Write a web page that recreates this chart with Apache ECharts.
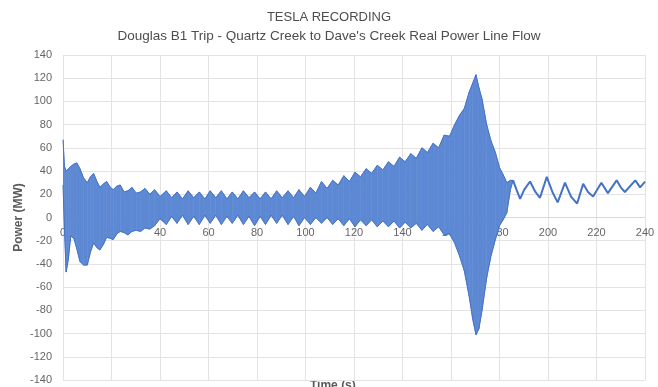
<!DOCTYPE html>
<html><head><meta charset="utf-8">
<script src="https://cdn.jsdelivr.net/npm/echarts@6/dist/echarts.min.js"></script>
<style>html,body{margin:0;padding:0;background:#fff}#c{width:658px;height:387px}</style>
</head><body><div id="c"></div>
<script>
// Oscillation envelope (max / min of the dense swing) in seconds / MW
const bandTime  = [0,0.6,1.3,2.2,3.2,4.5,5.7,7.0,8.5,10.0,11.3,12.6,14.0,15.2,16.7,18.0,19.5,20.7,22.2,23.6,25.2,26.8,28.4,30.2,32.0,33.8,35.8,37.8,40.0,
  42.6,44.8,47.0,49.3,51.6,53.9,56.2,58.5,60.7,63.0,65.3,67.6,69.8,72.1,74.4,76.7,79.0,81.3,83.5,85.8,88.1,90.4,92.8,95.1,97.3,99.6,
  102.0,104.3,106.6,108.9,111.2,113.5,115.8,118.1,120.4,122.7,125.0,127.3,129.6,131.9,134.2,136.5,138.8,141.1,143.4,145.7,148.0,150.3,152.6,154.9,157.2,159.4,
  161.5,163.5,165.5,167.5,169.0,170.3,171.5,172.8,174.7,176.5,178.3,180.0,181.5,183.0,184.5,185.6];
const bandUpper = [67,44,40,42,44,46,47,42,34,30,35,38,31,26,29,31,26,24,27,28,22,23,26,21,22,25,20,24,18,
  23,17,22,16,23,17,22,16,23,17,23,16,22,16,23,17,22,16,22,16,23,17,23,17,24,18,
  26,21,31,25,32,28,36,31,39,35,42,38,45,41,48,44,52,48,55,51,60,56,64,60,71,70,
  80,88,94,108,116,123,112,102,80,66,56,43,37,30,32,32];
const bandLower = [28,-10,-47,-36,-16,-18,-27,-38,-41,-41,-30,-22,-26,-28,-23,-17,-18,-19,-14,-12,-13,-15,-12,-11,-12,-9,-10,-7,-1,
  -6,1,-5,2,-6,1,-6,2,-5,2,-6,1,-5,2,-6,1,-7,1,-6,2,-5,2,-6,1,-7,0,
  -6,0,-5,0,-6,-1,-7,-1,-8,-2,-7,-2,-8,-3,-8,-3,-9,-4,-9,-5,-11,-6,-12,-8,-15,-14,
  -22,-33,-46,-68,-88,-101,-96,-80,-52,-33,-19,-7,-2,4,24,32];
// Settled swing after the oscillation dies out
const tailTime  = [185.6,187.0,188.5,190.2,192.6,194.8,196.7,199.5,201.8,204.0,207.0,209.5,212.0,214.5,216.5,218.6,222.0,224.7,228.3,230.0,231.7,236.0,238.0,240.0];
const tailPower = [32,24,16,24,31,22,17,35,22,13,30,18,12,29,22,18,30,21,32,26,22,32,26,31];

const titleText = 'TESLA RECORDING';
const subtitleText = "Douglas B1 Trip - Quartz Creek to Dave's Creek Real Power Line Flow";
const xName = 'Time (s)';
const yName = 'Power (MW)';

const blue = '#4472c4';
const fill = '#5d88d4';
const chart = echarts.init(document.getElementById('c'), null, {renderer:'canvas'});
const font = 'Liberation Sans, Arial, sans-serif';
const bandData = bandTime.map((t,i)=>[t, bandUpper[i], bandLower[i]]);

function renderBand(params, api){
  const i = params.dataIndex;
  if (i >= bandData.length - 1) return null;
  const a = bandData[i], b = bandData[i+1];
  const pts = [api.coord([a[0],a[1]]), api.coord([b[0],b[1]]), api.coord([b[0],b[2]]), api.coord([a[0],a[2]])];
  return {type:'polygon', shape:{points:pts}, style:{fill:fill, stroke:fill, lineWidth:0.6}};
}

const gridTop = 55, gridBottom = 7, chartH = 387;
const plotH = chartH - gridTop - gridBottom;
const yMin = -140, yMax = 140;
// put the x axis (with its labels) on the zero line, as in the source chart
const zeroOffset = -plotH * (0 - yMin) / (yMax - yMin);

chart.setOption({
  animation:false,
  textStyle:{fontFamily:font},
  title:[
    {text:titleText, left:'center', top:6, textStyle:{fontSize:13, fontWeight:'normal', color:'#4d4d4d', fontFamily:font}},
    {text:subtitleText, left:'center', top:24, textStyle:{fontSize:13.5, fontWeight:'normal', color:'#4d4d4d', fontFamily:font}}
  ],
  graphic:[{type:'text', left:310, top:380, style:{text:xName, fontSize:12, fontWeight:'bold', fill:'#595959', fontFamily:font}}],
  grid:{left:63, right:13, top:gridTop, bottom:gridBottom, containLabel:false},
  xAxis:{type:'value', min:0, max:240, interval:20, position:'bottom', offset:zeroOffset,
    axisLine:{onZero:false, lineStyle:{color:'#d9d9d9'}}, axisTick:{show:false},
    axisLabel:{color:'#666', fontSize:11, margin:10},
    splitLine:{show:true, lineStyle:{color:'#e3e3e3'}}},
  yAxis:{type:'value', min:yMin, max:yMax, interval:20,
    axisLine:{show:false}, axisTick:{show:false},
    axisLabel:{color:'#666', fontSize:11, margin:11},
    splitLine:{show:true, lineStyle:{color:'#e3e3e3'}},
    name:yName, nameLocation:'middle', nameGap:38, nameMoveOverlap:false,
    nameTextStyle:{fontSize:12, fontWeight:'bold', color:'#595959'}},
  series:[
    {type:'custom', name:'band', renderItem:renderBand, data:bandData, encode:{x:0, y:[1,2]}, clip:true},
    {type:'line', name:'max', symbol:'none', data: bandTime.map((t,i)=>[t, bandUpper[i]]), lineStyle:{color:blue, width:1}},
    {type:'line', name:'min', symbol:'none', data: bandTime.map((t,i)=>[t, bandLower[i]]), lineStyle:{color:blue, width:1}},
    {type:'line', name:'tail', symbol:'none',
     data: tailTime.map((t,i)=>[t, tailPower[i]]), lineStyle:{color:blue, width:2}}
  ]
});
</script></body></html>
